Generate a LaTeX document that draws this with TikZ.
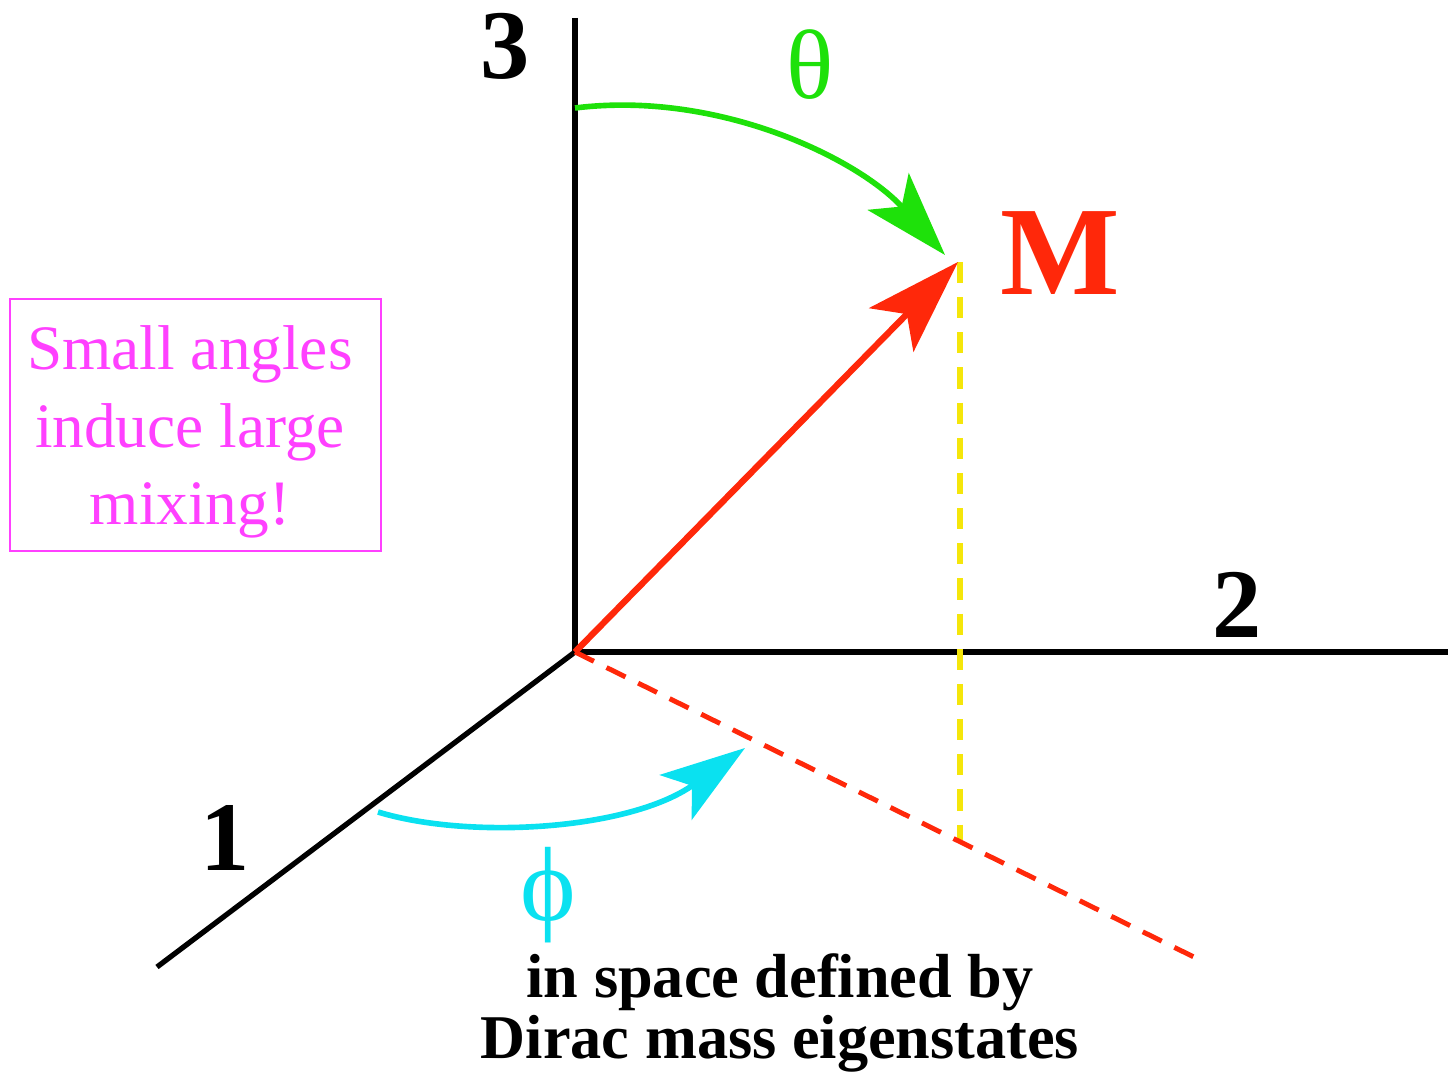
\documentclass[tikz,border=0pt]{standalone}
\usepackage{fontspec}
\setmainfont{Liberation Serif}
\usetikzlibrary{arrows.meta}
\definecolor{mred}{RGB}{255,40,10}
\definecolor{mgreen}{RGB}{30,225,10}
\definecolor{mcyan}{RGB}{10,225,240}
\definecolor{myellow}{RGB}{245,230,10}
\definecolor{mmag}{RGB}{255,64,255}
\tikzset{
  axis/.style={line width=1.5pt, black},
  axlabel/.style={font=\fontsize{28}{28}\selectfont\bfseries, inner sep=0pt},
  tipbig/.style={-{Stealth[length=0.95cm, width=0.62cm, inset=0.22cm]}},
  tipmid/.style={-{Stealth[length=0.85cm, width=0.55cm, inset=0.2cm]}},
}
\begin{document}
\begin{tikzpicture}[x=0.01cm, y=-0.01cm]
\useasboundingbox (0,0) rectangle (1448,1073);
\coordinate (O) at (575,652);
\coordinate (top3) at (575,18);
\coordinate (right2) at (1448,652);
\coordinate (end1) at (157,967);
\coordinate (Mtip) at (958,262);
\coordinate (ytop) at (960,262);
\coordinate (yfoot) at (960,840);
\coordinate (rdend) at (1200,960);
\coordinate (gstart) at (575,108);
\coordinate (gend) at (945,255);
\coordinate (cstart) at (378,812);
\coordinate (cend) at (745,748);
% axes
\draw[axis] (top3) -- (O) -- (right2);
\draw[axis] (O) -- (end1);
% dashed lines
\draw[myellow, line width=1.6pt, dash pattern=on 6pt off 4pt] (ytop) -- (yfoot);
\draw[mred, line width=1.4pt, dash pattern=on 6pt off 4pt] (O) -- (rdend);
% M vector
\draw[mred, line width=1.8pt, tipbig] (O) -- (Mtip);
% theta arc
\draw[mgreen, line width=1.6pt, tipmid] (gstart) .. controls (720,90) and (860,160) .. (gend);
% phi arc
\draw[mcyan, line width=1.6pt, tipmid] (cstart) .. controls (470,840) and (630,830) .. (cend);
% labels
\node[axlabel] (l3) at (505,46) {3};
\node[axlabel] (l2) at (1237,605) {2};
\node[axlabel] (l1) at (225,838) {1};
\node[mred, font=\fontsize{36}{36}\selectfont\bfseries, inner sep=0pt] (lM) at (1060,253) {M};
\node[mgreen, font=\fontsize{28}{28}\selectfont, inner sep=0pt] (lth) at (810,65) {θ};
\node[mcyan, font=\fontsize{30}{30}\selectfont, inner sep=0pt] (lph) at (548,895) {\symbol{"03D5}};
% box
\draw[mmag, line width=0.8pt] (10,299) rectangle (381,551);
\node[mmag, font=\fontsize{18}{22}\selectfont, align=center, inner sep=0pt] (box) at (190,432) {Small angles\\induce large\\mixing!};
% caption
\node[font=\fontsize{17.7}{15.4}\selectfont\bfseries, align=center, inner sep=0pt] (cap) at (780,1013) {in space defined by\\Dirac mass eigenstates};
\end{tikzpicture}
\end{document}
